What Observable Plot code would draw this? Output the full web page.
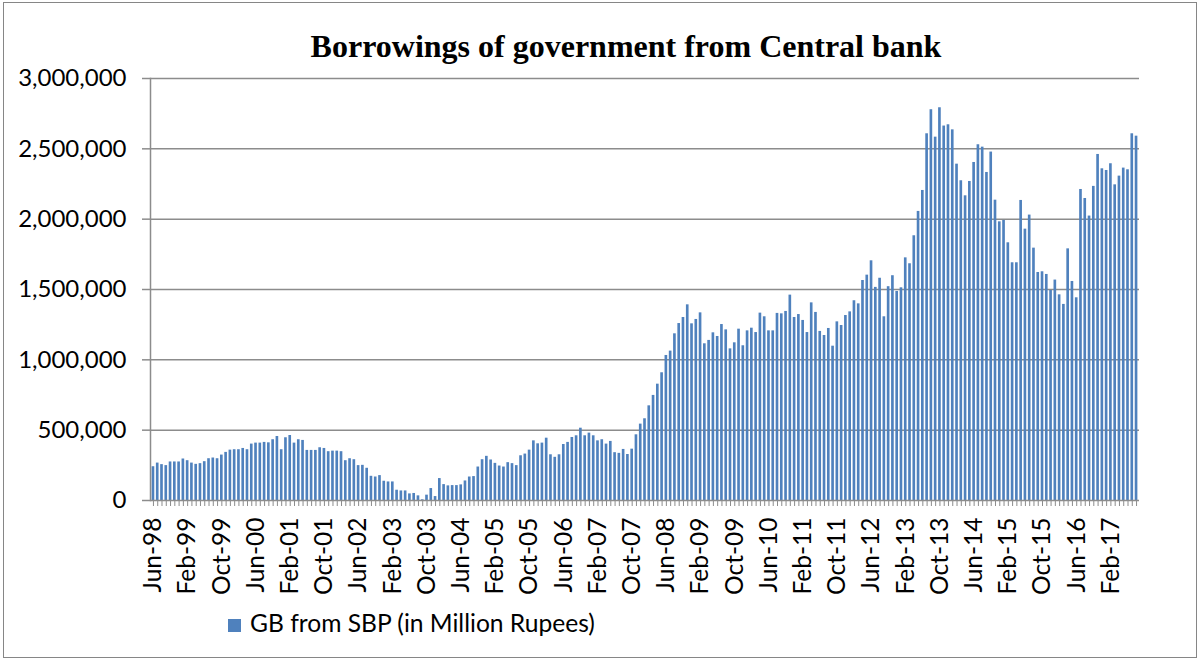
<!DOCTYPE html>
<html>
<head>
<meta charset="utf-8">
<script src="https://cdn.jsdelivr.net/npm/d3@7"></script>
<script src="https://cdn.jsdelivr.net/npm/@observablehq/plot@0.6"></script>
<style>
  html, body { margin: 0; padding: 0; background: #fff; }
  #wrap { position: relative; width: 1200px; height: 661px; overflow: hidden; background: #fff; }
  #border { position: absolute; left: 3px; top: 2px; width: 1192px; height: 654px; border: 1.5px solid #868686; }
  #title { position: absolute; left: 626px; top: 30px; transform: translateX(-50%); white-space: nowrap;
           font-family: "Liberation Serif", "Times New Roman", serif; font-weight: bold; font-size: 32px; line-height: 32px; color: #000; }
  #chart { position: absolute; left: 0; top: 0; }
  #legend { position: absolute; left: 228px; top: 611px; font-family: Lato, sans-serif; font-size: 24.6px; line-height: 24px; color: #000; white-space: nowrap; }
  #legend .sw { display: inline-block; width: 13px; height: 13px; background: #4F81BD; margin-right: 9px; vertical-align: 0px; }
</style>
</head>
<body>
<div id="wrap">
  <div id="border"></div>
  <div id="chart"></div>
  <div id="title">Borrowings of government from Central bank</div>
  <div id="legend"><span class="sw"></span>GB from SBP (in Million Rupees)</div>
</div>
<script>
// Monthly values, Jun-98 .. Aug-17 (million rupees)
const values = [
  240000, 266000, 255000, 248000, 274000, 274000, 274000, 295000, 283000, 266000,
  257000, 262000, 276000, 297000, 302000, 297000, 323000, 342000, 358000, 361000,
  361000, 370000, 361000, 401000, 408000, 408000, 413000, 410000, 432000, 455000,
  361000, 446000, 462000, 408000, 432000, 427000, 356000, 356000, 356000, 375000,
  370000, 347000, 351000, 351000, 347000, 283000, 297000, 290000, 248000, 250000,
  229000, 172000, 167000, 177000, 137000, 132000, 132000, 73000, 68000, 68000,
  47000, 50000, 33000, 5000, 38000, 85000, 28000, 156000, 113000, 104000,
  106000, 106000, 111000, 139000, 167000, 170000, 238000, 290000, 314000, 288000,
  264000, 245000, 238000, 269000, 262000, 248000, 318000, 330000, 358000, 424000,
  403000, 408000, 443000, 325000, 307000, 325000, 398000, 413000, 448000, 460000,
  514000, 460000, 479000, 460000, 424000, 432000, 401000, 420000, 340000, 335000,
  363000, 327000, 365000, 467000, 543000, 581000, 673000, 747000, 827000, 908000,
  1031000, 1062000, 1185000, 1258000, 1301000, 1391000, 1256000, 1287000, 1334000, 1114000,
  1138000, 1192000, 1166000, 1251000, 1213000, 1078000, 1121000, 1218000, 1100000, 1206000,
  1225000, 1194000, 1332000, 1306000, 1206000, 1206000, 1330000, 1327000, 1344000, 1460000,
  1301000, 1322000, 1280000, 1194000, 1405000, 1337000, 1202000, 1173000, 1223000, 1097000,
  1270000, 1244000, 1315000, 1341000, 1420000, 1398000, 1564000, 1602000, 1704000, 1515000,
  1580000, 1306000, 1520000, 1598000, 1486000, 1512000, 1725000, 1683000, 1882000, 2055000,
  2204000, 2607000, 2778000, 2583000, 2792000, 2662000, 2671000, 2635000, 2391000, 2273000,
  2166000, 2268000, 2403000, 2529000, 2512000, 2332000, 2477000, 2135000, 1981000, 1991000,
  1832000, 1690000, 1690000, 2133000, 1929000, 2029000, 1794000, 1621000, 1626000, 1607000,
  1493000, 1567000, 1462000, 1394000, 1789000, 1557000, 1441000, 2211000, 2147000, 2022000,
  2233000, 2460000, 2358000, 2346000, 2394000, 2244000, 2306000, 2363000, 2351000, 2607000,
  2590000
];

// Category months
const fmt = d3.utcFormat("%b-%y");
const months = d3.utcMonth.range(new Date(Date.UTC(1998, 5, 1)), new Date(Date.UTC(2017, 8, 1))).map(fmt);

const tickLabels = [
  "Jun-98", "Feb-99", "Oct-99", "Jun-00", "Feb-01", "Oct-01", "Jun-02", "Feb-03", "Oct-03", "Jun-04",
  "Feb-05", "Oct-05", "Jun-06", "Feb-07", "Oct-07", "Jun-08", "Feb-09", "Oct-09", "Jun-10", "Feb-11",
  "Oct-11", "Jun-12", "Feb-13", "Oct-13", "Jun-14", "Feb-15", "Oct-15", "Jun-16", "Feb-17"
];

const yTicks = [0, 500000, 1000000, 1500000, 2000000, 2500000, 3000000];

const data = months.map((m, i) => ({month: m, value: values[i]}));

const gridColor = "#8c8c8c";

const chart = Plot.plot({
  width: 1200,
  height: 620,
  marginLeft: 150,
  marginRight: 61,
  marginTop: 78,
  marginBottom: 120,
  style: {fontFamily: "Lato, sans-serif", fontSize: "24px", color: "#000", background: "transparent", overflow: "visible"},
  x: {type: "band", domain: months, padding: 0.38, label: null},
  y: {domain: [0, 3000000], label: null},
  marks: [
    Plot.ruleY(yTicks.slice(1), {stroke: gridColor, strokeWidth: 1.5}),
    Plot.barY(data, {x: "month", y: "value", fill: "#4F81BD"}),
    Plot.ruleY([0], {stroke: gridColor, strokeWidth: 1.5}),
    Plot.frame({anchor: "left", stroke: gridColor, strokeWidth: 1.5}),
    Plot.axisY({ticks: yTicks, tickSize: 8, tickPadding: 16, tickFormat: d3.format(","), stroke: gridColor, strokeWidth: 1.5, fontSize: 24, label: null}),
    Plot.axisX({ticks: months, tickSize: 6, tickFormat: () => "", stroke: gridColor, label: null}),
    Plot.axisX({ticks: tickLabels, tickSize: 0, tickRotate: -90, tickPadding: 17, fontSize: 24.5, label: null})
  ]
});
document.getElementById("chart").appendChild(chart);
</script>
</body>
</html>
